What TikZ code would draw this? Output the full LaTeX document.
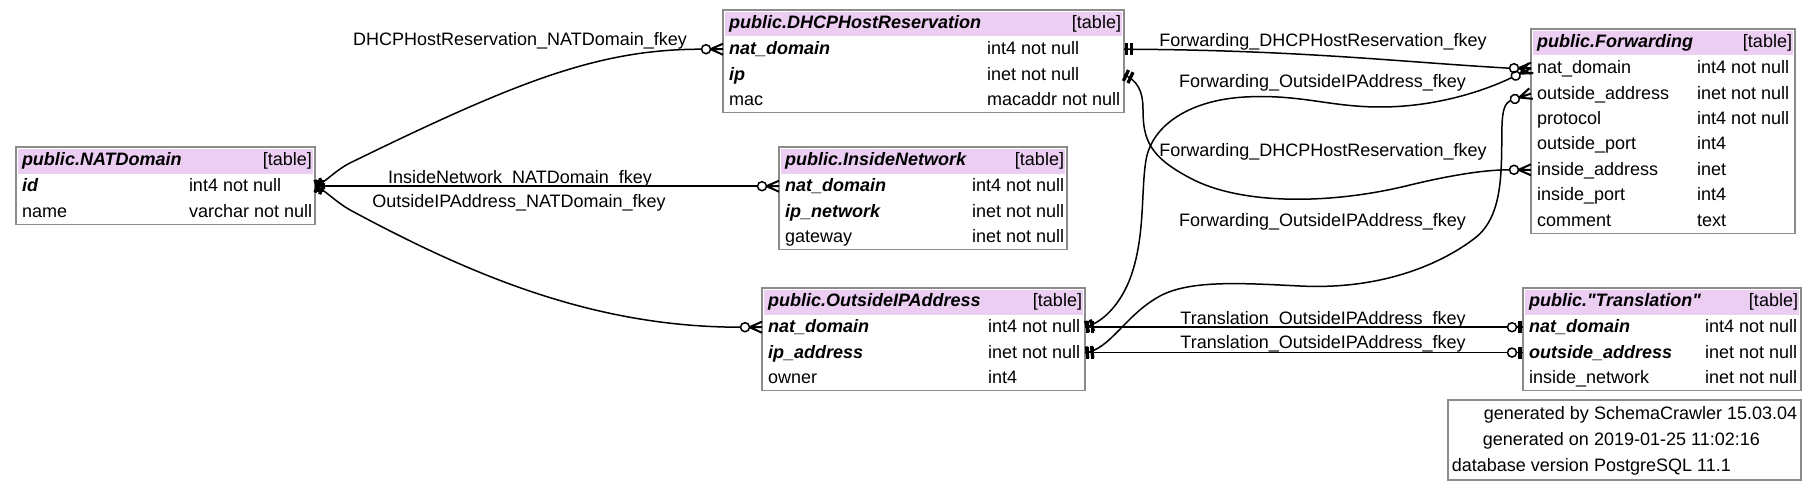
\documentclass[tikz,border=0pt]{standalone}
\usepackage{fontspec}
\setmainfont{Liberation Sans}
\usetikzlibrary{calc,fit}
\definecolor{hdrcol}{RGB}{235,206,242}
\definecolor{boxgray}{RGB}{140,140,140}
\newcommand\fs{\fontsize{9pt}{11pt}\selectfont}
\tikzset{
  every node/.style={inner sep=0pt, outer sep=0pt},
  txt/.style={font=\fs, anchor=base west},
  pktxt/.style={font=\fs\bfseries\itshape, anchor=base west},
  hdrtxt/.style={font=\fs\bfseries\itshape, anchor=base west},
  tagtxt/.style={font=\fs, anchor=base east},
  elabel/.style={font=\fs, anchor=base},
  tbox/.style={draw=boxgray, line width=0.7pt, inner sep=0pt},
  cell/.style={inner sep=0pt},
  conn/.style={line width=0.75pt, draw=black},
  crowo/.pic={
    \draw[line width=0.75pt] (-17,0) circle[radius=2.25pt];
    \draw[line width=1pt] (-12.5,0) -- (0,-5.5) (-12.5,0) -- (0,5.5) (-12.5,0) -- (0,0);
  },
  onebar/.pic={
    \fill (0.5,-6) rectangle (3.8,6);
    \fill (5.5,-6) rectangle (8.8,6);
  },
  zeroone/.pic={
    \draw[line width=0.75pt] (-11,0) circle[radius=2.25pt];
    \draw[line width=0.75pt] (-6.5,0) -- (0,0);
    \fill (-4.8,-6) rectangle (-1.3,6);
  }
}
% #1 table id, #2 L, #3 R, #4 T, #5 B, #6 title
\newcommand\tablebox[6]{%
  \fill[hdrcol] (#2+2,#4+2) rectangle (#3-2,#4+26.5);
  \node[tbox, fit={(#2,#4) (#3,#5)}] (#1) {};
  \node[hdrtxt] (#1-title) at (#2+6,#4+18.5) {#6};
  \node[tagtxt] (#1-tag) at (#3-3,#4+18.5) {[table]};
}
% #1 row id, #2 L, #3 R, #4 row top, #5 style, #6 column, #7 type x, #8 type
\newcommand\tablerow[8]{%
  \node[cell, fit={(#2,#4) (#3,#4+25.4)}] (#1) {};
  \node[#5] (#1-n) at (#2+6,#4+18.2) {#6};
  \node[txt] (#1-t) at (#7,#4+18.2) {#8};
}
\begin{document}
\begin{tikzpicture}[x=0.5pt, y=-0.5pt]
\useasboundingbox (0,0) rectangle (1819,492);

% NATDomain
\tablebox{natdomain}{16}{315}{147}{224.3}{public.NATDomain}
\tablerow{nat-id}{16}{315}{173.5}{pktxt}{id}{189}{int4 not null}
\tablerow{nat-name}{16}{315}{198.9}{txt}{name}{189}{varchar not null}

% DHCPHostReservation
\tablebox{dhcp}{723}{1124}{10}{112.7}{public.DHCPHostReservation}
\tablerow{dhcp-nat}{723}{1124}{36.5}{pktxt}{nat\_domain}{987}{int4 not null}
\tablerow{dhcp-ip}{723}{1124}{61.9}{pktxt}{ip}{987}{inet not null}
\tablerow{dhcp-mac}{723}{1124}{87.3}{txt}{mac}{987}{macaddr not null}

% InsideNetwork
\tablebox{inside}{779}{1067}{147}{249.7}{public.InsideNetwork}
\tablerow{in-nat}{779}{1067}{173.5}{pktxt}{nat\_domain}{972}{int4 not null}
\tablerow{in-ipn}{779}{1067}{198.9}{pktxt}{ip\_network}{972}{inet not null}
\tablerow{in-gw}{779}{1067}{224.3}{txt}{gateway}{972}{inet not null}

% OutsideIPAddress
\tablebox{oip}{762}{1085}{288}{390.7}{public.OutsideIPAddress}
\tablerow{oip-nat}{762}{1085}{314.5}{pktxt}{nat\_domain}{988}{int4 not null}
\tablerow{oip-ip}{762}{1085}{339.9}{pktxt}{ip\_address}{988}{inet not null}
\tablerow{oip-own}{762}{1085}{365.3}{txt}{owner}{988}{int4}

% Forwarding
\tablebox{fwd}{1531}{1795}{29}{233.3}{public.Forwarding}
\tablerow{fwd-nat}{1531}{1795}{55.5}{txt}{nat\_domain}{1697}{int4 not null}
\tablerow{fwd-out}{1531}{1795}{80.9}{txt}{outside\_address}{1697}{inet not null}
\tablerow{fwd-prot}{1531}{1795}{106.3}{txt}{protocol}{1697}{int4 not null}
\tablerow{fwd-oport}{1531}{1795}{131.7}{txt}{outside\_port}{1697}{int4}
\tablerow{fwd-ins}{1531}{1795}{157.1}{txt}{inside\_address}{1697}{inet}
\tablerow{fwd-iport}{1531}{1795}{182.5}{txt}{inside\_port}{1697}{int4}
\tablerow{fwd-com}{1531}{1795}{207.9}{txt}{comment}{1697}{text}

% Translation
\tablebox{tr}{1523}{1801}{288}{390.7}{public.\textquotedbl Translation\textquotedbl}
\tablerow{tr-nat}{1523}{1801}{314.5}{pktxt}{nat\_domain}{1705}{int4 not null}
\tablerow{tr-out}{1523}{1801}{339.9}{pktxt}{outside\_address}{1705}{inet not null}
\tablerow{tr-in}{1523}{1801}{365.3}{txt}{inside\_network}{1705}{inet not null}

% footer
\node[tbox, fit={(1448,400) (1801,480)}] (footer) {};
\node[tagtxt] (f1a) at (1589,419.5) {generated by};
\node[txt] (f1b) at (1594,419.5) {SchemaCrawler 15.03.04};
\node[tagtxt] (f2a) at (1589,445.5) {generated on};
\node[txt] (f2b) at (1594,445.5) {2019-01-25 11:02:16};
\node[tagtxt] (f3a) at (1589,471) {database version};
\node[txt] (f3b) at (1594,471) {PostgreSQL 11.1};

% connectors
\draw[conn] (nat-id.east) .. controls (324,184) and (335,170) .. (352,162)
  .. controls (520,80) and (600,49.2) .. ($(dhcp-nat.west)+(-21.5,0)$);
\draw[conn] (nat-id.east) -- ($(in-nat.west)+(-21.5,0)$);
\draw[conn] (nat-id.east) .. controls (324,188.5) and (335,202) .. (352,211)
  .. controls (480,280) and (600,327.2) .. ($(oip-nat.west)+(-21.5,0)$);

\draw[conn] (dhcp-nat.east) .. controls (1300,50) and (1400,62) .. ($(fwd-nat.west)+(-21.5,0)$);

\draw[conn] (oip-nat.east) .. controls (1105,322) and (1124,300) .. (1133,270)
  .. controls (1145,230) and (1141,190) .. (1146,160)
  .. controls (1152,125) and (1190,100) .. (1245,97)
  .. controls (1300,94) and (1330,107) .. (1380,107)
  .. controls (1440,107) and (1489,88.6) .. ($(fwd-nat.west)+(-19.3,9.4)$);

\draw[conn] (dhcp-ip.east) .. controls (1137,80.6) and (1143,90) .. (1143,110)
  .. controls (1143,140) and (1150,157) .. (1190,178)
  .. controls (1240,205) and (1330,205) .. (1410,185)
  .. controls (1460,173) and (1490,169.8) .. ($(fwd-ins.west)+(-21.5,0)$);

\draw[conn] (oip-ip.east) .. controls (1110,350) and (1125,315) .. (1160,296)
  .. controls (1190,280) and (1240,283) .. (1300,286)
  .. controls (1380,290) and (1440,265) .. (1475,238)
  .. controls (1505,215) and (1501,165) .. (1502,125)
  .. controls (1502.5,110) and (1505,103) .. ($(fwd-out.west)+(-20.4,6.8)$);

\draw[conn] (oip-nat.east) -- ($(tr-nat.west)+(-15.5,0)$);
\draw[conn] (oip-ip.east) -- ($(tr-out.west)+(-15.5,0)$);

% markers
\pic[rotate=20] at (nat-id.east) {onebar};
\pic at (nat-id.east) {onebar};
\pic[rotate=-20] at (nat-id.east) {onebar};
\pic at (dhcp-nat.east) {onebar};
\pic[rotate=-25] at (dhcp-ip.east) {onebar};
\pic at (oip-nat.east) {onebar};
\pic[rotate=15] at (oip-nat.east) {onebar};
\pic at (oip-ip.east) {onebar};
\pic[rotate=6] at (oip-ip.east) {onebar};

\pic at (dhcp-nat.west) {crowo};
\pic at (in-nat.west) {crowo};
\pic at (oip-nat.west) {crowo};
\pic at (fwd-nat.west) {crowo};
\pic[rotate=26] at (fwd-nat.west) {crowo};
\pic[rotate=18.4] at (fwd-out.west) {crowo};
\pic at (fwd-ins.west) {crowo};
\pic at (tr-nat.west) {zeroone};
\pic at (tr-out.west) {zeroone};

% labels
\node[elabel] (l1) at (520,46) {DHCPHostReservation\_NATDomain\_fkey};
\node[elabel] (l2) at (520,183.3) {InsideNetwork\_NATDomain\_fkey};
\node[elabel] (l3) at (519,207.5) {OutsideIPAddress\_NATDomain\_fkey};
\node[elabel] (l4) at (1323,46.5) {Forwarding\_DHCPHostReservation\_fkey};
\node[elabel] (l5) at (1322.5,87.5) {Forwarding\_OutsideIPAddress\_fkey};
\node[elabel] (l6) at (1323,156.5) {Forwarding\_DHCPHostReservation\_fkey};
\node[elabel] (l7) at (1322.5,226.5) {Forwarding\_OutsideIPAddress\_fkey};
\node[elabel] (l8) at (1323,324.5) {Translation\_OutsideIPAddress\_fkey};
\node[elabel] (l9) at (1323,348.5) {Translation\_OutsideIPAddress\_fkey};
\end{tikzpicture}
\end{document}
